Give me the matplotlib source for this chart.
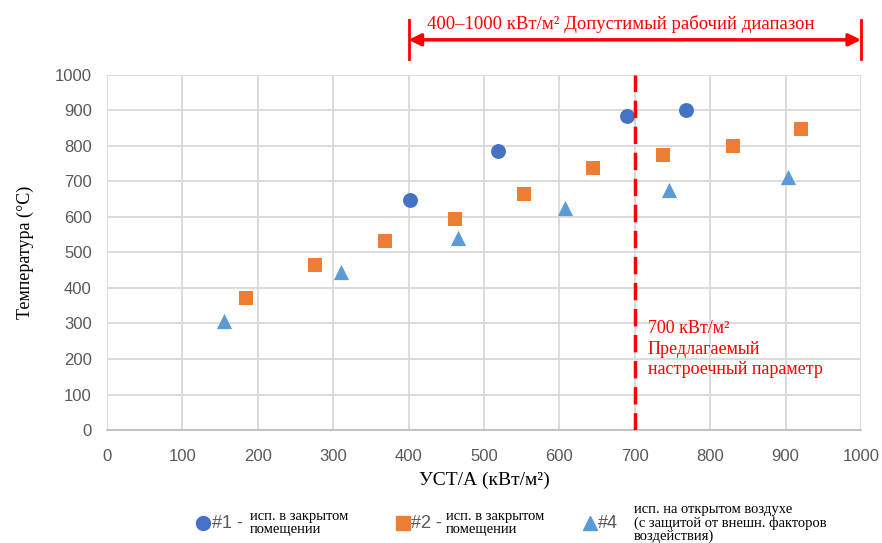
import matplotlib
matplotlib.use('Agg')
import matplotlib.pyplot as plt
from matplotlib.lines import Line2D

# data
s1_x = [402, 518, 690, 768]
s1_y = [648, 785, 885, 900]
s2_x = [184, 276, 369, 461, 553, 644, 737, 830, 921]
s2_y = [371, 464, 531, 594, 666, 737, 776, 799, 847]
s4_x = [155, 310, 465, 607, 745, 903]
s4_y = [307, 444, 542, 625, 675, 712]

x_ticks = list(range(0, 1001, 100))
y_ticks = list(range(0, 1001, 100))
range_lo, range_hi = 400, 1000
setpoint = 700

SERIF = ['Liberation Serif', 'DejaVu Serif']
SANS = ['Liberation Sans Narrow', 'Liberation Sans', 'DejaVu Sans']
RED = '#FF0000'

fig = plt.figure(figsize=(8.82, 5.43), dpi=100)
ax = fig.add_axes([0.1213, 0.2081, 0.8549, 0.6538])

ax.scatter(s1_x, s1_y, marker='o', s=115, color='#4472C4', zorder=3, linewidths=0)
ax.scatter(s2_x, s2_y, marker='s', s=110, color='#ED7D31', zorder=3, linewidths=0)
ax.scatter(s4_x, s4_y, marker='^', s=120, color='#5B9BD5', zorder=3, linewidths=0)

ax.set_xlim(0, 1000)
ax.set_ylim(0, 1000)
ax.set_xticks(x_ticks)
ax.set_yticks(y_ticks)
ax.grid(True, color='#D9D9D9', linewidth=1.3)
ax.set_axisbelow(True)
for s in ['top', 'right', 'left']:
    ax.spines[s].set_visible(False)
ax.spines['bottom'].set_color('#BFBFBF')
ax.spines['bottom'].set_linewidth(1.3)
ax.tick_params(length=0, labelsize=12, labelcolor='#595959')
ax.tick_params(axis='y', pad=11)
ax.tick_params(axis='x', pad=14)
for lab in ax.get_xticklabels() + ax.get_yticklabels():
    lab.set_family(SANS)

ax.set_xlabel('УСТ/А (кВт/м²)', family=SERIF, fontsize=14, labelpad=5)
ax.set_ylabel('Температура (°C)', family=SERIF, fontsize=13, labelpad=15)

# setpoint line
ax.axvline(setpoint, ymin=0, ymax=1, color=RED, linewidth=2.5, linestyle=(0, (5, 2.5)), zorder=4)
ax.text(setpoint + 17, 228, '700 кВт/м²\nПредлагаемый\nнастроечный параметр', color=RED,
        family=SERIF, fontsize=13, va='center', linespacing=1.3)

# permissible range arrow
ax.annotate('', xy=(range_lo, 1099), xytext=(range_hi, 1099),
            arrowprops=dict(arrowstyle='<|-|>', color=RED, lw=2.5, mutation_scale=18,
                            shrinkA=0, shrinkB=0), annotation_clip=False)
for xv in [range_lo, range_hi]:
    ax.plot([xv, xv], [1046, 1155], color=RED, lw=2, clip_on=False)
ax.text(range_lo + 25, 1145, '400–1000 кВт/м² Допустимый рабочий диапазон', color=RED,
        family=SERIF, fontsize=13.5, va='center', ha='left')

# legend drawn by hand
W, H = 882.0, 543.0
def fx(p): return p / W
def fy(p): return 1 - p / H

legend = [
    ('o', '#4472C4', 203, '#1 -', 212, 'исп. в закрытом\nпомещении', 250),
    ('s', '#ED7D31', 403, '#2 -', 411, 'исп. в закрытом\nпомещении', 446),
    ('^', '#5B9BD5', 590, '#4', 598, 'исп. на открытом воздухе\n(с защитой от внешн. факторов\nвоздействия)', 634),
]
for m, c, mx, tag, tx, desc, dx in legend:
    fig.add_artist(Line2D([fx(mx)], [fy(523)], marker=m, color=c, markersize=10,
                          linestyle='none', transform=fig.transFigure))
    fig.text(fx(tx), fy(523), tag, color='#595959', family=SANS, fontsize=13, va='center')
    fig.text(fx(dx), fy(523), desc, color='black', family=SERIF, fontsize=10.5,
             va='center', linespacing=0.95)

fig.savefig('out.png', dpi=100)
